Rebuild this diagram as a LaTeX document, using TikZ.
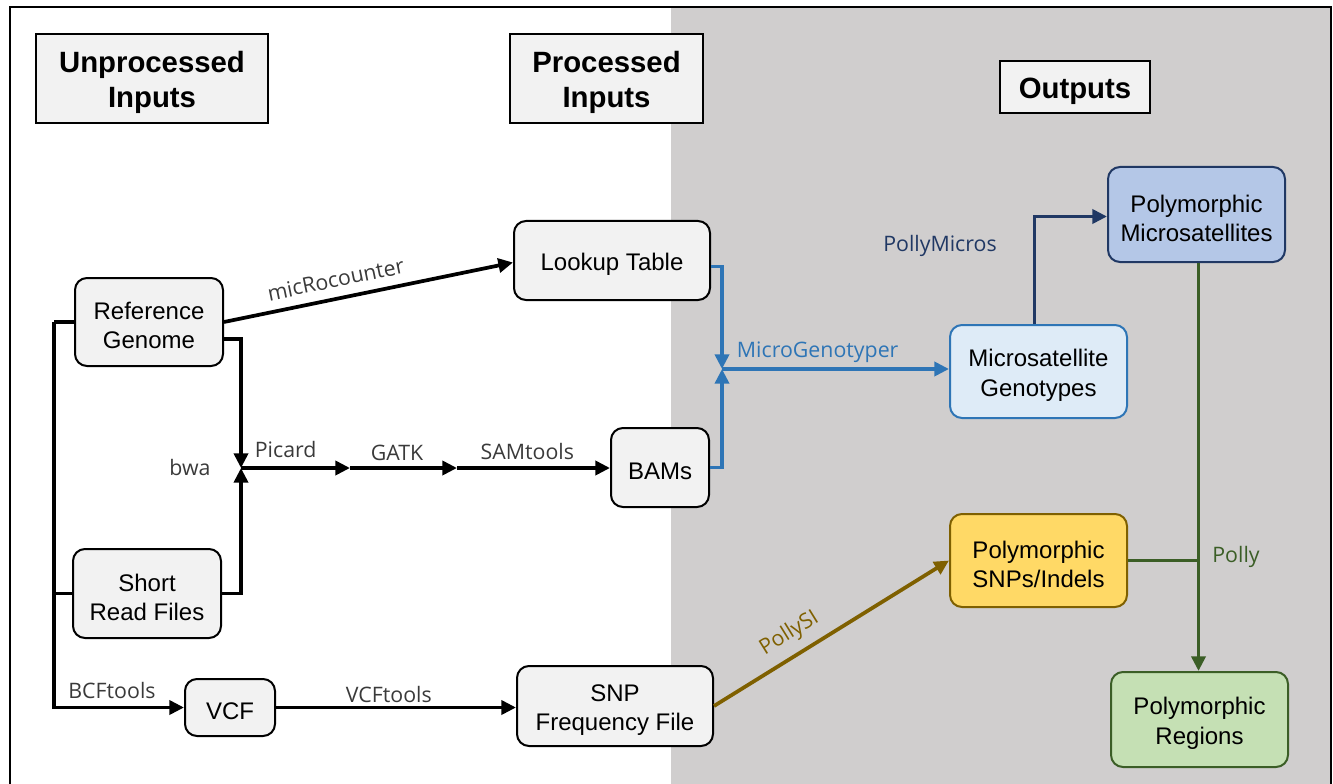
\documentclass[tikz,border=0pt]{standalone}
\usepackage{fontspec}
\setmainfont{Liberation Sans}
\newfontfamily\lblfont{Open Sans}
\usetikzlibrary{arrows.meta,calc}
\newcommand{\bxstrut}{\rule{0pt}{18.5pt}}
\newcommand{\hdstrut}{\rule{0pt}{22pt}}
\definecolor{boxfill}{HTML}{F2F2F2}
\definecolor{regiongray}{HTML}{D0CECE}
\definecolor{lblgray}{HTML}{3A3A3A}
\definecolor{blueline}{HTML}{2E75B6}
\definecolor{msgfill}{HTML}{DEEBF7}
\definecolor{darkblue}{HTML}{203864}
\definecolor{pmsfill}{HTML}{B4C7E7}
\definecolor{greenline}{HTML}{3B5E26}
\definecolor{pregfill}{HTML}{C5E0B4}
\definecolor{brownline}{HTML}{7F6000}
\definecolor{snpsfill}{HTML}{FFD966}
\begin{document}
\begin{tikzpicture}[x=0.75pt,y=-0.75pt,
  sz/.style 2 args={minimum width=#1*0.75pt, minimum height=#2*0.75pt},
  box/.style={draw=black, line width=1.5pt, fill=boxfill, rounded corners=9pt, align=center,
    font=\fontsize{18}{22}\selectfont, inner sep=0pt},
  hdr/.style={draw=black, line width=1pt, fill=boxfill, align=center,
    font=\fontsize{22}{26.5}\selectfont\bfseries, inner sep=0pt},
  conn/.style={line width=2.8pt, -{Triangle[length=11pt,width=10.5pt]}},
  plain/.style={line width=2.8pt},
  lbl/.style={font=\lblfont\fontsize{16}{19}\selectfont, text=lblgray, inner sep=2pt}]
\useasboundingbox (0,0) rectangle (1333,784);
\fill[regiongray] (671,7) rectangle (1331,784);
\draw[line width=1.5pt] (10,784) -- (10,7) -- (1331,7) -- (1331,784);

% headers
\node[hdr, sz={232}{89}] (unp) at (152,78.5) {\hdstrut Unprocessed\\Inputs};
\node[hdr, sz={193}{89}] (proc) at (606.5,78.5) {\hdstrut Processed\\Inputs};
\node[hdr, sz={150}{52}] (out) at (1075,87) {\hdstrut Outputs};

% nodes
\node[box, sz={148}{88}] (ref) at (149,322) {\bxstrut Reference\\Genome};
\node[box, sz={148}{89}] (short) at (147,593.5) {\bxstrut Short\\Read Files};
\node[box, sz={196}{79}] (lookup) at (612,260.5) {\bxstrut Lookup Table};
\node[box, sz={98}{79}] (bams) at (660,467.5) {\bxstrut BAMs};
\node[box, sz={90}{57}] (vcf) at (230,707.5) {\bxstrut VCF};
\node[box, sz={196}{80}] (snp) at (615,706) {\bxstrut SNP\\Frequency File};
\node[box, sz={177}{93}, draw=blueline, fill=msgfill] (msg) at (1038.5,371.5) {\bxstrut Microsatellite\\Genotypes};
\node[box, sz={177}{95}, draw=darkblue, fill=pmsfill] (pms) at (1196.5,214.5) {\bxstrut Polymorphic\\Microsatellites};
\node[box, sz={177}{93}, draw=brownline, fill=snpsfill] (snps) at (1038.5,560.5) {\bxstrut Polymorphic\\SNPs/Indels};
\node[box, sz={177}{95}, draw=greenline, fill=pregfill] (preg) at (1199.5,719.5) {\bxstrut Polymorphic\\Regions};

% junctions
\coordinate (j1) at (241,468);
\coordinate (j2) at (350,468);
\coordinate (j3) at (457,468);
\coordinate (j4) at (722,369);
\coordinate (bus) at (54,322);
\coordinate (gtop) at ($(pms.south)+(2,0)$);
\coordinate (gjoin) at (gtop |- snps.east);

% black connectors
\draw[conn] (ref.east) -- node[lbl, sloped, above=5pt, pos=0.4] {micRocounter} ($(lookup.west)+(0,2)$);
\draw[conn] ($(ref.east)+(0,17)$) -| (j1);
\draw[conn] (short.east) -| (j1);
\draw[conn] (j1) -- node[lbl, above=4pt, pos=0.41] {Picard} (j2);
\draw[conn] (j2) -- node[lbl, above=2pt, pos=0.44] {GATK} (j3);
\draw[conn] (j3) -- node[lbl, above=3pt, pos=0.46] {SAMtools} (j3 -| bams.west);
\node[lbl] (bwa) at (190,467) {bwa};

\draw[plain] (ref.west) -- (bus);
\draw[conn] (bus) |- (vcf.west);
\draw[plain] (short.west) -- (short.west -| bus);
\node[lbl] (bcf) at (112,690) {BCFtools};
\draw[conn] (vcf.east) -- node[lbl, above, pos=0.47] {VCFtools} (vcf.east -| snp.west);

% coloured connectors
\draw[conn, color=brownline] (snp.east) -- node[lbl, sloped, above=5pt, pos=0.37, text=brownline] {PollySI} (snps.west);

\draw[conn, color=blueline] ($(lookup.east)+(0,6)$) -| (j4);
\draw[conn, color=blueline] (bams.east) -| (j4);
\draw[conn, color=blueline] (j4) -- (j4 -| msg.west);
\node[lbl, text=blueline, anchor=south west] (mg) at ($(j4)+(12,-3)$) {MicroGenotyper};

\draw[conn, color=darkblue] ($(msg.north)+(-4,0)$) |- ($(pms.west)+(0,2)$);
\node[lbl, text=darkblue] (pm) at (940,246) {PollyMicros};

\draw[conn, color=greenline] (gtop) -- (gtop |- preg.north);
\draw[plain, color=greenline] (snps.east) -- (gjoin);
\node[lbl, text=greenline] (po) at (1236,557) {Polly};
\end{tikzpicture}
\end{document}
